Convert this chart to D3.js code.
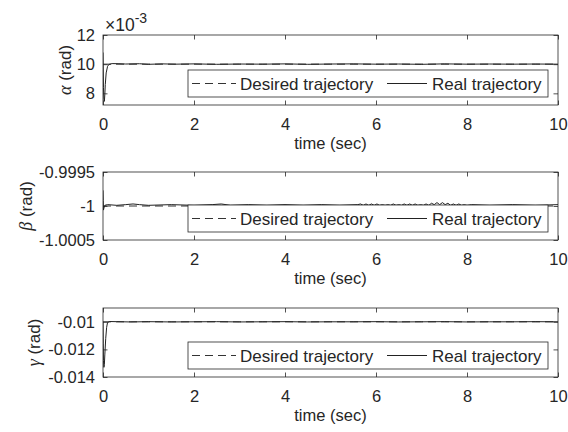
<!DOCTYPE html>
<html lang="en">
<head>
  <meta charset="utf-8">
  <title>Attitude tracking</title>
  <script src="https://d3js.org/d3.v7.min.js"></script>
  <style>
    html, body { margin: 0; padding: 0; background: #fff; }
    svg { display: block; font-family: Arial, "Liberation Sans", sans-serif; }
    .tick text { fill: #262626; font-size: 16.5px; }
  </style>
</head>
<body>
  <svg id="chart" width="568" height="432"></svg>
  <script>
    // alpha (x1e-3 rad)
    const alphaTime = [0, 0.005, 0.01, 0.02, 0.03, 0.04, 0.05, 0.07, 0.1, 0.13, 0.2, 0.35, 0.5, 0.8, 1.0, 1.3, 1.6, 2.0, 2.5, 3.0, 3.5, 4.0, 4.5, 5.0, 5.5, 6.0, 6.5, 7.0, 7.5, 8.0, 8.5, 9.0, 9.5, 10];
    const alphaReal = [10.8, 9.6, 8.4, 7.6, 7.45, 7.9, 8.6, 9.4, 9.85, 9.98, 10.04, 10.03, 10.01, 10.03, 9.99, 10.02, 10.0, 10.02, 9.99, 10.01, 10.0, 10.02, 9.99, 10.01, 10.02, 10.0, 10.01, 9.99, 10.02, 10.0, 10.01, 10.0, 10.01, 10.0];
    const alphaDesired = 10;

    // beta (rad)
    const betaTime = [0, 0.005, 0.01, 0.02, 0.04, 0.1, 0.3, 0.5, 0.66, 0.8, 1.0, 1.5, 2.0, 2.4, 2.6, 2.8, 3.2, 3.6, 4.0, 4.4, 4.8, 5.2, 5.6, 5.66, 5.72, 5.78, 5.84, 5.9, 5.96, 6.02, 6.08, 6.14, 6.2, 6.26, 6.32, 6.38, 6.44, 6.5, 6.56, 6.62, 6.68, 6.74, 6.8, 6.86, 6.92, 6.98, 7.04, 7.1, 7.16, 7.22, 7.28, 7.34, 7.4, 7.46, 7.52, 7.58, 7.64, 7.7, 7.76, 7.82, 7.88, 7.94, 8.0, 8.1, 8.5, 9.0, 9.5, 10];
    const betaReal = [-0.99977, -0.99992, -1.00006, -1.00003, -0.99999, -0.99998, -0.99999, -0.99998, -0.99997, -0.99998, -0.99999, -0.99998, -0.99999, -0.99998, -0.99997, -0.99999, -0.99998, -0.99999, -0.99998, -0.99999, -0.99998, -0.99999, -0.99998, -0.99997, -0.99999, -0.99997, -0.99999, -0.99997, -0.99999, -0.99997, -0.99999, -0.99998, -0.99999, -0.99998, -0.99999, -0.99997, -0.99999, -0.99998, -0.99999, -0.99997, -0.99999, -0.99997, -0.99999, -0.99997, -0.99999, -0.99998, -0.99999, -0.99997, -0.99999, -0.99996, -0.99998, -0.99995, -0.99998, -0.99995, -0.99998, -0.99996, -0.99999, -0.99997, -0.99999, -0.99997, -0.99999, -0.99998, -0.99999, -0.99998, -0.99999, -0.99998, -0.99999, -0.99998];
    const betaDesired = -1;

    // gamma (rad)
    const gammaTime = [0, 0.005, 0.01, 0.02, 0.03, 0.04, 0.06, 0.08, 0.1, 0.15, 0.3, 0.6, 1.0, 1.5, 2.0, 2.5, 3.0, 3.5, 4.0, 4.5, 5.0, 5.5, 6.0, 6.5, 7.0, 7.5, 8.0, 8.5, 9.0, 9.5, 10];
    const gammaReal = [-0.0100, -0.0116, -0.0128, -0.0133, -0.0131, -0.0124, -0.0112, -0.0104, -0.01005, -0.00998, -0.00999, -0.01001, -0.00999, -0.01001, -0.01, -0.00999, -0.01001, -0.01, -0.00999, -0.01001, -0.01, -0.01, -0.00999, -0.01001, -0.01, -0.00999, -0.01001, -0.01, -0.01, -0.00999, -0.01];
    const gammaDesired = -0.01;

    const xTicks = [0, 2, 4, 6, 8, 10];
    const legendLabels = ['Desired trajectory', 'Real trajectory'];

    const panels = [
      { sym: 'α', time: alphaTime, real: alphaReal, desired: alphaDesired, domain: [7.2, 12], ticks: [8, 10, 12], fmt: d => d3.format('d')(d), top: 35, bottom: 105, labelX: 65, exponent: true },
      { sym: 'β', time: betaTime, real: betaReal, desired: betaDesired, domain: [-1.0005, -0.9995], ticks: [-1.0005, -1, -0.9995], fmt: d => String(d), top: 172, bottom: 240, labelX: 26 },
      { sym: 'γ', time: gammaTime, real: gammaReal, desired: gammaDesired, domain: [-0.014, -0.009], ticks: [-0.014, -0.012, -0.01], fmt: d => String(d), top: 308, bottom: 377, labelX: 34 }
    ];

    const svg = d3.select('#chart');
    const left = 103, right = 558;
    const ink = '#262626';
    const x = d3.scaleLinear().domain([0, 10]).range([left, right]);

    panels.forEach(p => {
      const y = d3.scaleLinear().domain(p.domain).range([p.bottom, p.top]);
      const g = svg.append('g');

      // inward ticks on all four sides
      g.append('g').attr('transform', `translate(0,${p.bottom})`)
        .call(d3.axisBottom(x).tickValues(xTicks).tickSizeInner(-4.5).tickSizeOuter(0).tickPadding(13))
        .call(a => a.select('.domain').remove());
      g.append('g').attr('transform', `translate(0,${p.top})`)
        .call(d3.axisTop(x).tickValues(xTicks).tickSizeInner(-4.5).tickSizeOuter(0).tickFormat(''))
        .call(a => a.select('.domain').remove());
      g.append('g').attr('transform', `translate(${left},0)`)
        .call(d3.axisLeft(y).tickValues(p.ticks).tickSizeInner(-4.5).tickSizeOuter(0).tickPadding(8).tickFormat(p.fmt))
        .call(a => a.select('.domain').remove());
      g.append('g').attr('transform', `translate(${right},0)`)
        .call(d3.axisRight(y).tickValues(p.ticks).tickSizeInner(-4.5).tickSizeOuter(0).tickFormat(''))
        .call(a => a.select('.domain').remove());
      g.selectAll('.tick line').attr('stroke', ink).attr('stroke-width', 0.8);
      g.selectAll('.tick text').attr('fill', ink);

      const clipId = 'clip' + p.top;
      g.append('clipPath').attr('id', clipId).append('rect')
        .attr('x', left).attr('y', p.top).attr('width', right - left).attr('height', p.bottom - p.top);

      const pts = p.time.map((t, i) => [t, p.real[i]]);
      const line = d3.line().x(d => x(d[0])).y(d => y(d[1]));
      g.append('path').datum([[0, p.desired], [10, p.desired]])
        .attr('d', line).attr('fill', 'none').attr('stroke', '#333')
        .attr('stroke-width', 1).attr('stroke-dasharray', '8,5')
        .attr('clip-path', `url(#${clipId})`);
      g.append('path').datum(pts)
        .attr('d', line).attr('fill', 'none').attr('stroke', '#222')
        .attr('stroke-width', 1).attr('clip-path', `url(#${clipId})`);

      g.append('rect').attr('x', left).attr('y', p.top)
        .attr('width', right - left).attr('height', p.bottom - p.top)
        .attr('fill', 'none').attr('stroke', ink).attr('stroke-width', 0.8);

      // x label
      g.append('text').attr('x', (left + right) / 2).attr('y', p.bottom + 44)
        .attr('text-anchor', 'middle').attr('fill', ink).attr('font-size', 16.5)
        .text('time (sec)');

      // y label
      const yl = g.append('text')
        .attr('transform', `translate(${p.labelX},${(p.top + p.bottom) / 2}) rotate(-90)`)
        .attr('text-anchor', 'middle').attr('dy', '0.35em').attr('fill', ink).attr('font-size', 17);
      yl.append('tspan').attr('font-family', '"Liberation Serif", serif').attr('font-style', 'italic').attr('font-size', 18).text(p.sym);
      yl.append('tspan').text(' (rad)');

      if (p.exponent) {
        const ex = g.append('text').attr('x', left + 2).attr('y', p.top - 4)
          .attr('fill', ink).attr('font-size', 17.5);
        ex.append('tspan').text('×10');
        ex.append('tspan').attr('dy', -8).attr('font-size', 14).text('-3');
      }

      // legend
      const lx = 188, ly = p.bottom - 35, lw = 360, lh = 27;
      const lg = g.append('g');
      lg.append('rect').attr('x', lx).attr('y', ly).attr('width', lw).attr('height', lh)
        .attr('fill', '#fff').attr('stroke', ink).attr('stroke-width', 0.8);
      const my = ly + lh / 2;
      lg.append('line').attr('x1', lx + 4).attr('x2', lx + 48).attr('y1', my).attr('y2', my)
        .attr('stroke', '#333').attr('stroke-width', 1).attr('stroke-dasharray', '8,5');
      lg.append('text').attr('x', lx + 52).attr('y', my).attr('dy', '0.36em')
        .attr('fill', ink).attr('font-size', 17).text(legendLabels[0]);
      lg.append('line').attr('x1', lx + 199).attr('x2', lx + 239).attr('y1', my).attr('y2', my)
        .attr('stroke', '#222').attr('stroke-width', 1);
      lg.append('text').attr('x', lx + 244).attr('y', my).attr('dy', '0.36em')
        .attr('fill', ink).attr('font-size', 17).text(legendLabels[1]);
    });
  </script>
</body>
</html>
